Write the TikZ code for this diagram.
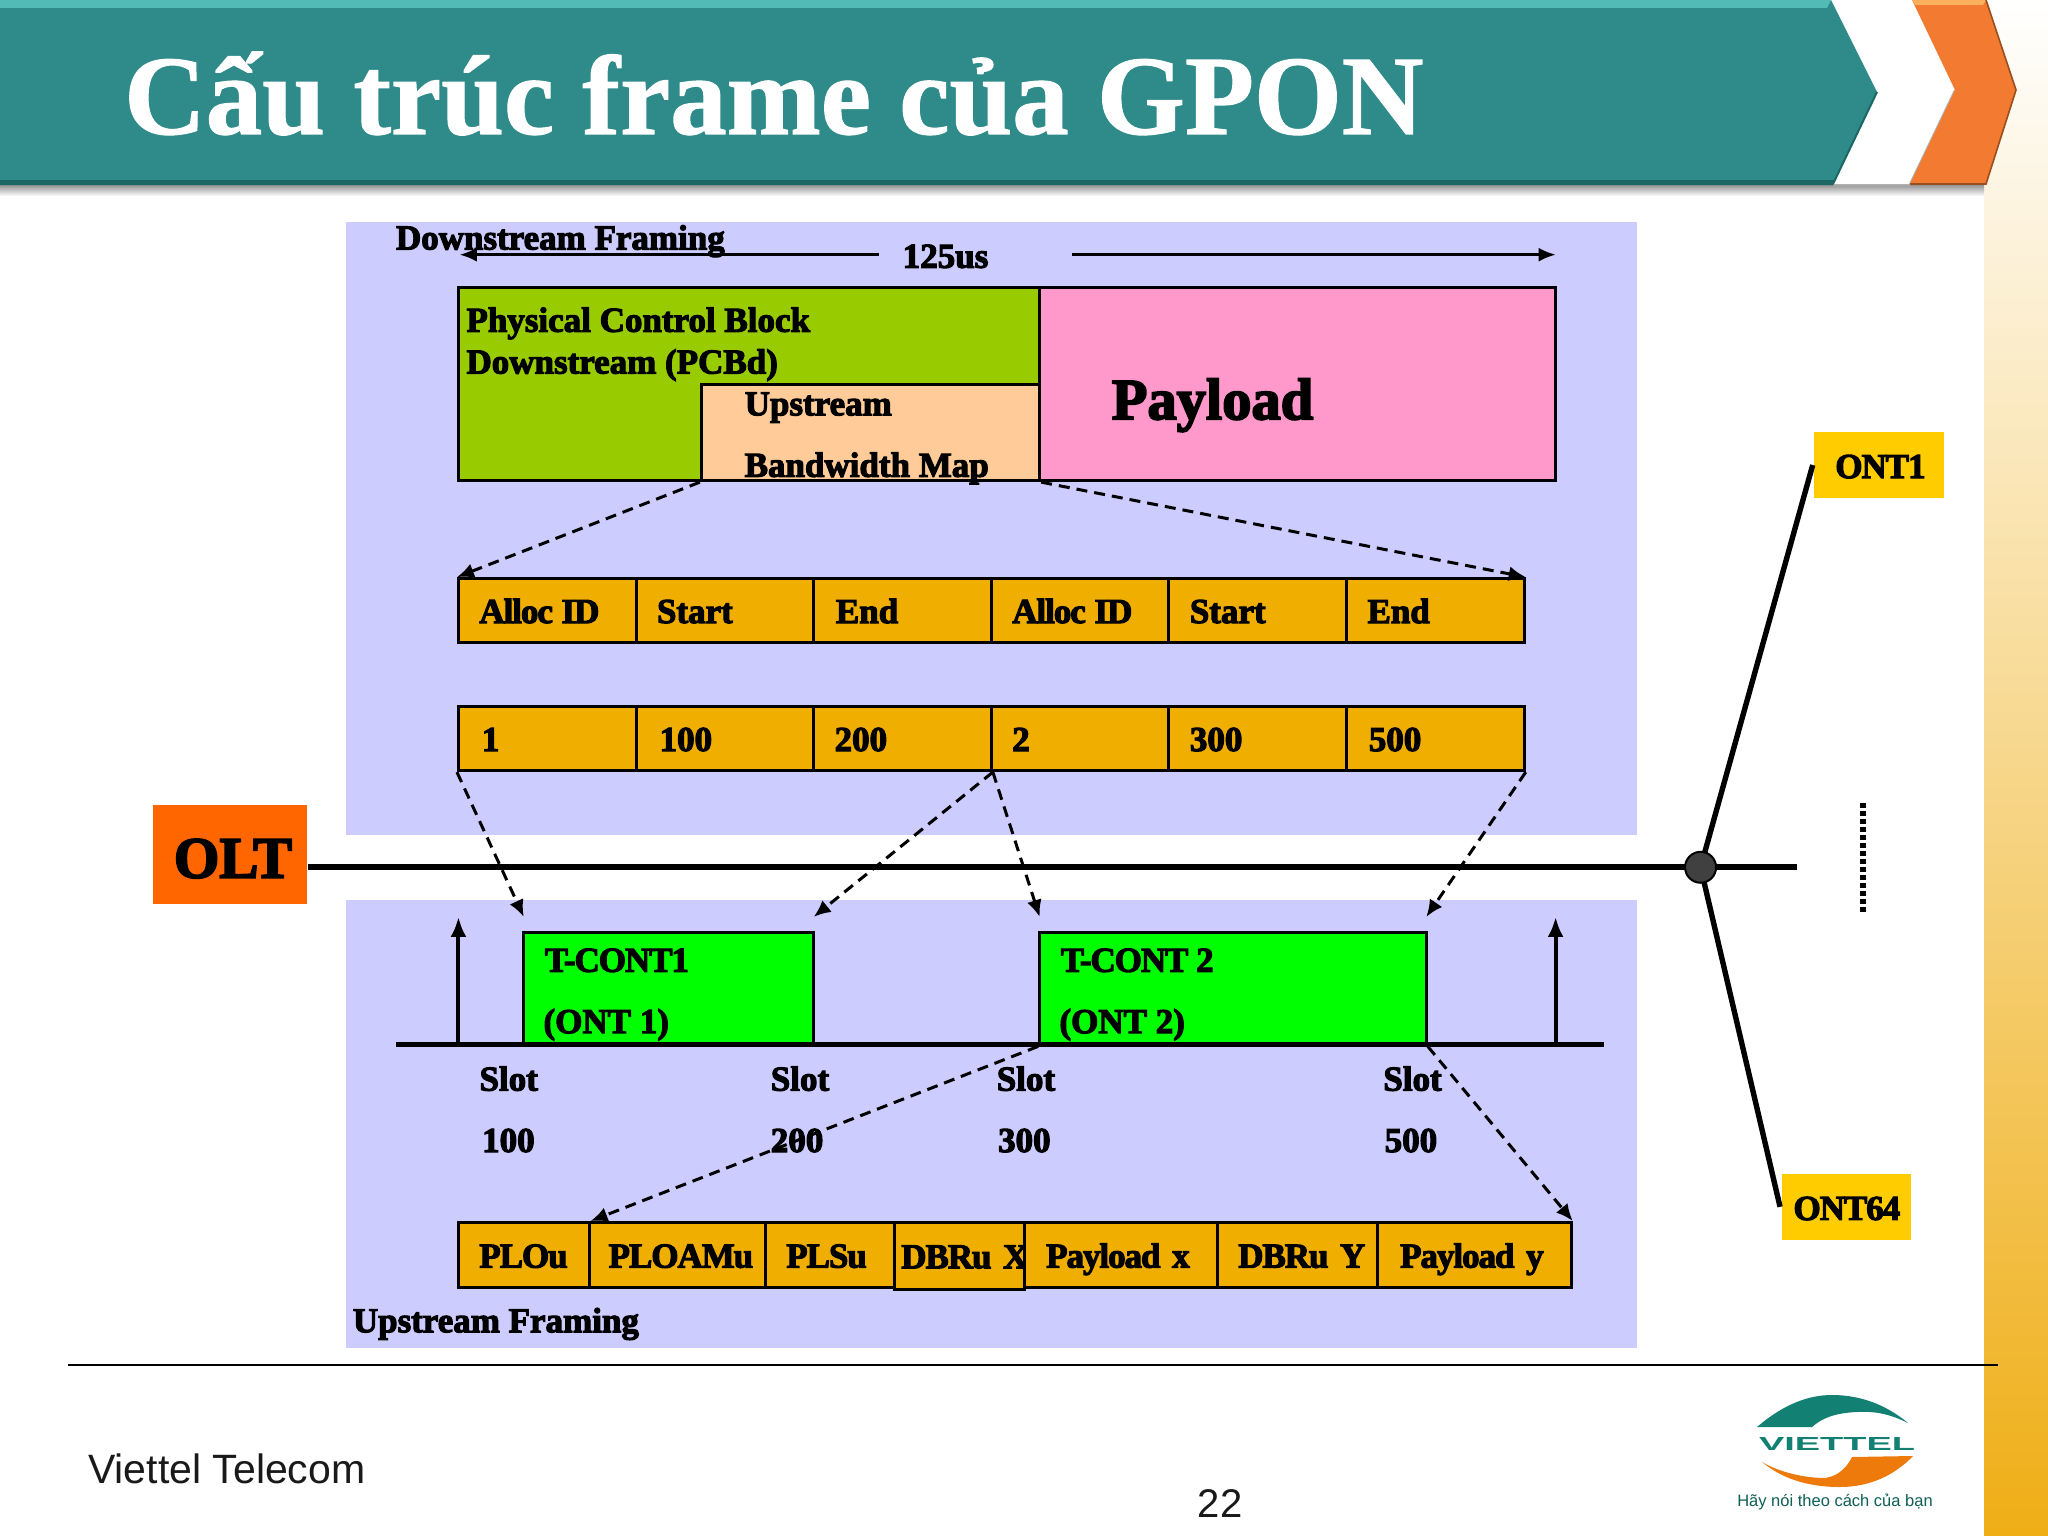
\documentclass[tikz,border=0pt]{standalone}
\usepackage{fontspec}
\usepackage{graphicx}
\usetikzlibrary{arrows.meta,calc}
\setmainfont{Liberation Serif}
\newfontfamily\hv{Liberation Serif}[BoldFeatures={FakeBold=3.2}]
\newfontfamily\hvx{Liberation Serif}[BoldFeatures={FakeBold=3.2,LetterSpace=-3}]
\newcommand\tgt{\hvx\bfseries}
\newfontfamily\ttl{Liberation Serif}[BoldFeatures={FakeBold=1}]
\newfontfamily\arl{Liberation Sans}
\definecolor{band}{HTML}{CCCCFF}
\definecolor{amberc}{HTML}{F0AE00}
\definecolor{grn}{HTML}{99CC00}
\definecolor{peach}{HTML}{FFCC99}
\definecolor{pinkc}{HTML}{FF99CC}
\definecolor{limec}{HTML}{00FF00}
\definecolor{oltc}{HTML}{FF6600}
\definecolor{ontc}{HTML}{FFCC00}
\definecolor{dotc}{HTML}{404040}
\definecolor{teal1}{HTML}{2E8B89}
\definecolor{teal2}{HTML}{53BBB6}
\definecolor{teal3}{HTML}{1C6664}
\definecolor{org1}{HTML}{F37A31}
\definecolor{org2}{HTML}{FBB05E}
\definecolor{org3}{HTML}{9A4E1E}
\definecolor{logot}{HTML}{128072}
\definecolor{logoo}{HTML}{EE7A0C}
\definecolor{stripem}{HTML}{F8D68A}
\definecolor{stripeb}{HTML}{EFAE16}
\tikzset{
  lbl/.style={anchor=base west,inner sep=0pt,font=\hv\bfseries\fontsize{35}{35}\selectfont},
  big/.style={anchor=base west,inner sep=0pt,font=\hv\bfseries\fontsize{58.5}{58}\selectfont},
  cell/.style={draw=black,line width=3pt,fill=amberc,align=left,text height=24.8pt,text depth=0pt,font=\hv\bfseries\fontsize{35}{35}\selectfont},
  box/.style={draw=black,line width=3pt,inner sep=0pt},
  dsh/.style={draw=black,line width=3pt,dash pattern=on 11pt off 7pt,-{Latex[length=17pt,width=15pt]}},
  solidarrow/.style={draw=black,line width=2.4pt,-{Latex[length=17pt,width=14pt]}},
  upar/.style={draw=black,line width=4pt,-{Latex[length=20pt,width=16pt]}},
  fat/.style={draw=black,line width=5.6pt},
}
\newcommand\cellbox[7]{%
 \pgfmathsetmacro\cwid{(#3-#2-2*#6)*1.30612}%
 \pgfmathsetmacro\chei{(#5-#4)*1.30612}%
 \pgfmathsetmacro\cpad{#6*1.30612}%
 \node[cell,text width=\cwid pt,inner xsep=\cpad pt,inner ysep=0pt,minimum height=\chei pt] (#1) at ({(#2+#3)/2},{(#4+#5)/2}) {\mbox{#7}};}
\newcommand\plainbox[6]{%
 \pgfmathsetmacro\cwid{(#3-#2)*1.30612}%
 \pgfmathsetmacro\chei{(#5-#4)*1.30612}%
 \node[box,fill=#6,minimum width=\cwid pt,minimum height=\chei pt] (#1) at ({(#2+#3)/2},{(#4+#5)/2}) {};}
\begin{document}
\begin{tikzpicture}[x=1pt,y=-1pt]
\useasboundingbox (0,0) rectangle (2048,1536);
\fill[white] (0,0) rectangle (2048,1536);
% side stripe
\shade[top color=white,middle color=stripem,bottom color=stripeb] (1984,0) rectangle (2048,1536);
% header shadow
\shade[top color=black!45,bottom color=white] (0,184) rectangle (1984,196);
% white chevron
\fill[black!35] (1833,187) -- (1910,187) -- (1914,180) -- (1836,180) -- cycle;
\fill[white] (1831,0) -- (1912,0) -- (1955,90) -- (1910,184) -- (1833,184) -- (1877,92) -- cycle;
\draw[black!30,line width=2pt] (1955,90) -- (1910,184);
% teal
\fill[teal1] (0,0) -- (1831,0) -- (1877,92) -- (1833,184) -- (0,184) -- cycle;
\fill[teal2] (0,0) -- (1831,0) -- (1827,8) -- (0,8) -- cycle;
\fill[teal3] (0,180) -- (1835,180) -- (1833,185) -- (0,185) -- cycle;
\draw[teal3,line width=2pt] (1877,92) -- (1833,184);
% orange
\fill[org1] (1912,0) -- (1986,0) -- (2016,90) -- (1986,184) -- (1910,184) -- (1955,90) -- cycle;
\fill[org2] (1912,0) -- (1986,0) -- (1983,5) -- (1915,5) -- cycle;
\draw[org3,line width=1.6pt] (1986,0) -- (2016,90) -- (1986,184) -- (1910,184);
\node[anchor=base west,inner sep=0pt,text=white,font=\ttl\bfseries\fontsize{113}{113}\selectfont] (title) at (124,134) {Cấu trúc frame của GPON};
% footer
\coordinate (fl) at (68,1365);
\coordinate (fr) at (1998,1365);
\draw[black,line width=1.5pt] (fl) -- (fr);
\node[anchor=base west,inner sep=0pt,font=\arl\fontsize{41}{41}\selectfont,text=black!90] (foot) at (88,1483) {Viettel Telecom};
\node[anchor=base,inner sep=0pt,font=\arl\fontsize{40}{40}\selectfont,text=black!90] (pg) at (1220,1517) {22};
% logo
\fill[logot] (1757,1427) .. controls (1785,1403) and (1810,1395) .. (1832,1395) .. controls (1865,1395) and (1890,1408) .. (1908,1423) .. controls (1890,1414) and (1875,1411) .. (1857,1412) .. controls (1835,1413) and (1822,1418) .. (1812,1427) -- cycle;
\fill[logoo] (1762,1462) .. controls (1775,1470) and (1800,1478) .. (1825,1478) .. controls (1840,1476) and (1848,1465) .. (1852,1457) -- (1913,1456) .. controls (1895,1475) and (1870,1487) .. (1840,1487) .. controls (1805,1487) and (1780,1477) .. (1762,1462) -- cycle;
\node[inner sep=0pt,text=logot,font=\arl\bfseries] (vt) at (1837,1444) {\resizebox{156pt}{13pt}{VIETTEL}};
\node[inner sep=0pt,text=logot!75!black,font=\arl\fontsize{16.5}{17}\selectfont] (slogan) at (1835,1502) {Hãy nói theo cách của bạn};
% ---- diagram, in units of 1/1.30612 px
\begin{scope}[x=1.30612pt,y=-1.30612pt]
\fill[band] (265,170) rectangle (1253,639);
\fill[band] (265,689) rectangle (1253,1032);
% frame boxes
\plainbox{pcb}{351}{796}{220}{368}{grn}
\plainbox{bwm}{537}{796}{294}{368}{peach}
\plainbox{pay}{796}{1191}{220}{368}{pinkc}
% row 1
\cellbox{a1}{351}{487}{443}{492}{16}{\tgt Alloc\hspace{-3pt} ID}
\cellbox{a2}{487}{623}{443}{492}{16}{Start}
\cellbox{a3}{623}{759}{443}{492}{17}{End}
\cellbox{a4}{759}{895}{443}{492}{16}{\tgt Alloc\hspace{-3pt} ID}
\cellbox{a5}{895}{1031}{443}{492}{16}{Start}
\cellbox{a6}{1031}{1167}{443}{492}{16}{End}
% row 2
\cellbox{b1}{351}{487}{541}{590}{18}{1}
\cellbox{b2}{487}{623}{541}{590}{18}{100}
\cellbox{b3}{623}{759}{541}{590}{16}{200}
\cellbox{b4}{759}{895}{541}{590}{16}{2}
\cellbox{b5}{895}{1031}{541}{590}{16}{300}
\cellbox{b6}{1031}{1167}{541}{590}{17}{500}
% upstream boxes
\plainbox{tc1}{401}{623}{714}{800}{limec}
\plainbox{tc2}{796}{1092}{714}{800}{limec}
% row 3
\cellbox{c1}{351}{451}{936}{986}{16}{\tgt PLOu}
\cellbox{c2}{451}{586}{936}{986}{15}{\tgt PLOAMu}
\cellbox{c3}{586}{685}{936}{986}{16}{\tgt PLSu}
\cellbox{c4}{685}{784}{936}{987}{5}{\tgt DBRu X}
\cellbox{c5}{784}{932}{936}{986}{17}{\tgt Payload x}
\cellbox{c6}{932}{1055}{936}{986}{16}{\tgt DBRu Y}
\cellbox{c7}{1055}{1203}{936}{986}{17}{\tgt Payload y}
% slot line and markers
\coordinate (sl) at (303,800);
\coordinate (sr) at (1228,800);
\draw[black,line width=5pt] (sl) -- (sr);
\coordinate (m1b) at (351,800);
\coordinate (m1t) at (351,702);
\coordinate (m2b) at (1191,800);
\coordinate (m2t) at (1191,702);
\draw[upar] (m1b) -- (m1t);
\draw[upar] (m2b) -- (m2t);
% duration arrows
\coordinate (d1) at (673,195);
\coordinate (d2) at (352,195);
\coordinate (d3) at (821,195);
\coordinate (d4) at (1191,195);
\draw[solidarrow] (d1) -- (d2);
\draw[solidarrow] (d3) -- (d4);
% dashed mapping arrows
\draw[dsh] (bwm.south west) -- (a1.north west);
\draw[dsh] (bwm.south east) -- (a6.north east);
\coordinate (t1) at (401,702);
\coordinate (t2) at (623,702);
\coordinate (t3) at (796,702);
\coordinate (t4) at (1092,702);
\draw[dsh] (b1.south west) -- (t1);
\draw[dsh] (b3.south east) -- (t2);
\draw[dsh] (b3.south east) -- (t3);
\draw[dsh] (b6.south east) -- (t4);
\draw[dsh] (tc2.south west) -- (c1.north east);
\draw[dsh] (tc2.south east) -- (c7.north east);
% bus and branches
\node[box,draw=none,fill=oltc,minimum width=154.1pt,minimum height=99.3pt] (olt) at (176,654) {};
\node[box,draw=none,fill=ontc,minimum width=129.3pt,minimum height=65.3pt] (ont1) at (1438.5,356) {};
\node[box,draw=none,fill=ontc,minimum width=129.3pt,minimum height=65.3pt] (ont64) at (1413.5,924) {};
\coordinate (hub) at (1302,664);
\coordinate (busend) at (1376,664);
\draw[fat] (olt.east |- hub) -- (busend);
\draw[black,line width=5.4pt] (hub) -- (ont1.west);
\draw[black,line width=5.4pt] (hub) -- (ont64.west);
\node[circle,draw=black,line width=2pt,fill=dotc,minimum size=31pt,inner sep=0pt] (dot) at (hub) {};
\coordinate (v1) at (1426,615);
\coordinate (v2) at (1426,698);
\draw[black,line width=6pt,dash pattern=on 4.5pt off 3.5pt] (v1) -- (v2);
% labels
\node[lbl] (tdf) at (303,191) {Downstream Framing};
\node[lbl] (t125) at (691,205) {125us};
\node[lbl] (tp1) at (357,254) {Physical Control Block};
\node[lbl] (tp2) at (357,286) {Downstream (PCBd)};
\node[lbl] (tu1) at (570,318) {Upstream};
\node[lbl] (tu2) at (570,365) {Bandwidth Map};
\node[big] (tpay) at (851,321) {Payload};
\node[big] (tolt) at (133,672) {OLT};
\node[lbl] (tont1) at (1405,366) {\tgt ONT1};
\node[lbl] (tont64) at (1373,934) {\tgt ONT64};
\node[lbl] (tt1) at (417,744) {\tgt T-CONT1};
\node[lbl] (tt1b) at (416,791) {(ONT 1)};
\node[lbl] (tt2) at (812,744) {\tgt T-CONT 2};
\node[lbl] (tt2b) at (811,791) {(ONT 2)};
\node[lbl] (s1) at (367,835) {Slot};
\node[lbl] (n1) at (369,882) {100};
\node[lbl] (s2) at (590,835) {Slot};
\node[lbl] (n2) at (590,882) {200};
\node[lbl] (s3) at (763,835) {Slot};
\node[lbl] (n3) at (764,882) {300};
\node[lbl] (s4) at (1059,835) {Slot};
\node[lbl] (n4) at (1060,882) {500};
\node[lbl] (tuf) at (270,1020) {Upstream Framing};
\end{scope}
\end{tikzpicture}
\end{document}
